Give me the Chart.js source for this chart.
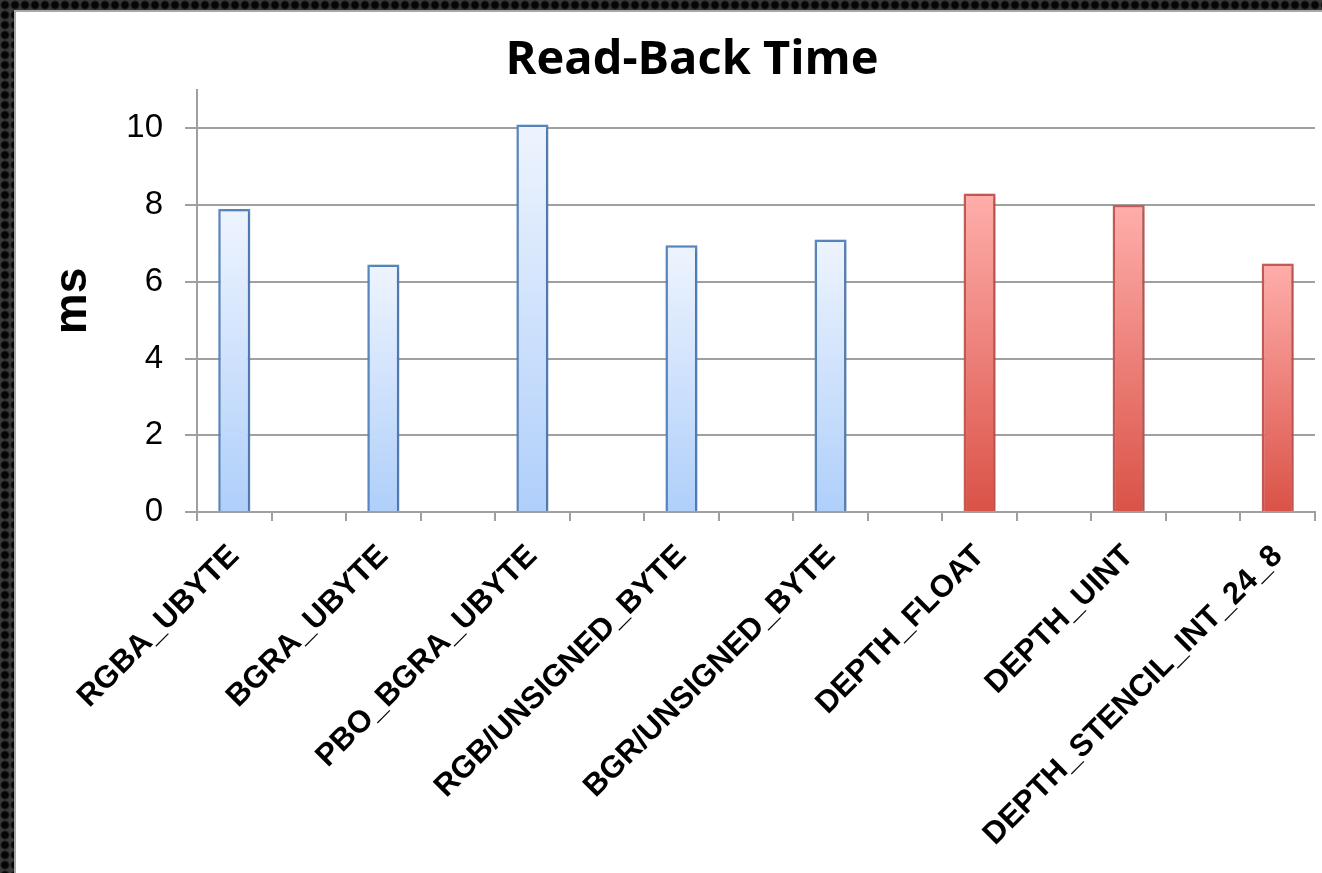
<!DOCTYPE html>
<html>
<head>
<meta charset="utf-8">
<title>Read-Back Time</title>
<script src="https://cdn.jsdelivr.net/npm/chart.js@4.4.1/dist/chart.umd.min.js"></script>
<style>
  html, body { margin: 0; padding: 0; width: 1322px; height: 873px; overflow: hidden; }
  body {
    background-color: #3b3b3b;
    background-image: radial-gradient(circle, #050505 0 42%, rgba(5,5,5,0) 72%);
    background-size: 10px 10px;
  }
  #panel {
    position: absolute; left: 14px; top: 10px;
    width: 1320px; height: 880px;
    background: #ffffff;
    border: 2px solid #a8a8a8;
  }
  #chart { position: absolute; left: 0; top: 0; }
</style>
</head>
<body>
<div id="panel"><canvas id="chart" width="1306" height="861"></canvas></div>
<script>
// Read-back timings per pixel format (milliseconds)
const categories = [
  'RGBA_UBYTE', 'BGRA_UBYTE', 'PBO_BGRA_UBYTE', 'RGB/UNSIGNED_BYTE',
  'BGR/UNSIGNED_BYTE', 'DEPTH_FLOAT', 'DEPTH_UINT', 'DEPTH_STENCIL_INT_24_8'
];
const readBackMs = [7.9, 6.45, 10.1, 6.95, 7.1, 8.3, 8.0, 6.48];
const bufferKind = ['color', 'color', 'color', 'color', 'color', 'depth', 'depth', 'depth'];
const yTickValues = [0, 2, 4, 6, 8, 10];
const yAxisMax = 11;

// Each format sits in its own slot, with an empty slot between neighbours
const slotLabels = [];
const slotValues = [];
const slotKinds = [];
categories.forEach((name, i) => {
  if (i > 0) { slotLabels.push(''); slotValues.push(null); slotKinds.push(null); }
  slotLabels.push(name); slotValues.push(readBackMs[i]); slotKinds.push(bufferKind[i]);
});

const palette = {
  color: { top: '#eef4fe', bottom: '#afcffa', border: '#5a8bc7' },
  depth: { top: '#ffaeab', bottom: '#da5247', border: '#cc5d58' }
};

function barFill(ctx) {
  const kind = slotKinds[ctx.dataIndex];
  const chart = ctx.chart;
  if (!kind) return 'rgba(0,0,0,0)';
  const p = palette[kind];
  const yScale = chart.scales.y;
  if (!chart.chartArea || !yScale) return p.bottom;
  const yTop = yScale.getPixelForValue(slotValues[ctx.dataIndex]);
  const yBot = yScale.getPixelForValue(0);
  const g = chart.ctx.createLinearGradient(0, yTop, 0, yBot);
  g.addColorStop(0, p.top);
  g.addColorStop(1, p.bottom);
  return g;
}

// Soft shadow behind the bars
const barShadow = {
  id: 'barShadow',
  beforeDatasetsDraw(chart) {
    const c = chart.ctx;
    c.save();
    c.shadowColor = 'rgba(0,0,0,0.28)';
    c.shadowBlur = 5;
    c.shadowOffsetX = 1;
    c.shadowOffsetY = 1;
  },
  afterDatasetsDraw(chart) { chart.ctx.restore(); }
};

// Chart heading
const heading = {
  id: 'heading',
  afterDraw(chart) {
    const c = chart.ctx;
    c.save();
    c.font = '700 47px "Open Sans", Lato, sans-serif';
    c.fillStyle = '#000000';
    c.textAlign = 'center';
    c.textBaseline = 'alphabetic';
    c.fillText('Read-Back Time', 676, 62);
    c.restore();
  }
};

const gridGrey = '#a0a0a0';

new Chart(document.getElementById('chart'), {
  type: 'bar',
  data: {
    labels: slotLabels,
    datasets: [{
      label: 'ms',
      data: slotValues,
      backgroundColor: barFill,
      borderColor: (ctx) => slotKinds[ctx.dataIndex] ? palette[slotKinds[ctx.dataIndex]].border : 'rgba(0,0,0,0)',
      borderWidth: 2.5,
      borderSkipped: 'bottom',
      categoryPercentage: 1,
      barPercentage: 0.43,
      skipNull: true
    }]
  },
  plugins: [barShadow, heading],
  options: {
    responsive: false,
    animation: false,
    events: [],
    layout: { padding: { left: 0, right: 7, top: 78, bottom: 0 } },
    plugins: {
      legend: { display: false },
      title: { display: false },
      tooltip: { enabled: false }
    },
    scales: {
      x: {
        type: 'category',
        offset: true,
        afterFit(scale) { scale.height = 361; },
        grid: {
          offset: true,
          drawOnChartArea: false,
          drawTicks: true,
          tickLength: 9,
          color: gridGrey,
          lineWidth: 2
        },
        border: { display: true, color: gridGrey, width: 2 },
        ticks: {
          autoSkip: false,
          maxRotation: 45,
          minRotation: 45,
          padding: 17,
          color: '#000000',
          font: { family: '"Liberation Sans", Arial, sans-serif', size: 31, weight: 'bold' }
        }
      },
      y: {
        min: 0,
        max: yAxisMax,
        afterFit(scale) { scale.width = 181; },
        afterBuildTicks(scale) {
          scale.ticks = yTickValues.map(v => ({ value: v }));
        },
        grid: {
          color: gridGrey,
          lineWidth: 2,
          drawTicks: true,
          tickLength: 12
        },
        border: { display: true, color: gridGrey, width: 2 },
        ticks: {
          padding: 22,
          color: '#000000',
          font: { family: '"Liberation Sans", Arial, sans-serif', size: 33 }
        },
        title: {
          display: true,
          text: 'ms',
          color: '#000000',
          padding: { top: 34, bottom: 0 },
          font: { family: '"Liberation Sans", Arial, sans-serif', size: 46, weight: 'bold', lineHeight: 1 }
        }
      }
    }
  }
});
</script>
</body>
</html>
